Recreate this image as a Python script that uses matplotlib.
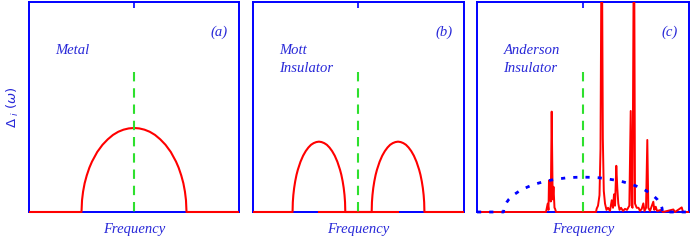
#!/usr/bin/env python3
import matplotlib
matplotlib.use("Agg")
import matplotlib.pyplot as plt
from matplotlib.patches import Rectangle

# --- data (frequency in units of half band width) ---
panel_tags = ["(a)", "(b)", "(c)"]
panel_names = [["Metal"], ["Mott", "Insulator"], ["Anderson", "Insulator"]]
center_line_top = 0.667

# (a) metal: one semi-elliptic band
metal_x = [-2.0, -1.0, -0.99, -0.97, -0.94, -0.9, -0.85, -0.8, -0.7, -0.6, -0.5, -0.4,
           -0.3, -0.2, -0.1, 0.0, 0.1, 0.2, 0.3, 0.4, 0.5, 0.6, 0.7, 0.8, 0.85, 0.9,
           0.94, 0.97, 0.99, 1.0, 2.0]
metal_y = [0.0, 0.0, 0.056, 0.097, 0.137, 0.174, 0.211, 0.240, 0.286, 0.320, 0.346, 0.367,
           0.382, 0.392, 0.398, 0.400, 0.398, 0.392, 0.382, 0.367, 0.346, 0.320, 0.286,
           0.240, 0.211, 0.174, 0.137, 0.097, 0.056, 0.0, 0.0]

# (b) Mott insulator: two Hubbard bands
mott_x = [-2.0, -1.25, -1.245, -1.235, -1.22, -1.2, -1.175, -1.15, -1.1, -1.05, -1.0,
          -0.95, -0.9, -0.85, -0.8, -0.75, -0.7, -0.65, -0.6, -0.55, -0.5, -0.45, -0.4,
          -0.35, -0.325, -0.3, -0.28, -0.265, -0.255, -0.25,
          0.25, 0.255, 0.265, 0.28, 0.3, 0.325, 0.35, 0.4, 0.45, 0.5, 0.55, 0.6, 0.65,
          0.7, 0.75, 0.8, 0.85, 0.9, 0.95, 1.0, 1.05, 1.1, 1.15, 1.175, 1.2, 1.22,
          1.235, 1.245, 1.25, 2.0]
mott_y = [0.0, 0.0, 0.047, 0.081, 0.114, 0.146, 0.177, 0.201, 0.239, 0.268, 0.290,
          0.307, 0.320, 0.328, 0.333, 0.335, 0.333, 0.328, 0.320, 0.307, 0.290, 0.268,
          0.239, 0.201, 0.177, 0.146, 0.114, 0.081, 0.047, 0.0,
          0.0, 0.047, 0.081, 0.114, 0.146, 0.177, 0.201, 0.239, 0.268, 0.290, 0.307,
          0.320, 0.328, 0.333, 0.335, 0.333, 0.328, 0.320, 0.307, 0.290, 0.268, 0.239,
          0.201, 0.177, 0.146, 0.114, 0.081, 0.047, 0.0, 0.0]
mott_base_x = [-0.75, 0.75]
mott_base_y = [0.0, 0.0]

# (c) Anderson insulator: spiky local spectrum plus the averaged band
anderson_x = [-2.0, -0.698, -0.666, -0.651, -0.642, -0.623, -0.608, -0.591, -0.572,
              -0.557, -0.538, -0.528, -0.509, 0.245, 0.258, 0.283, 0.311, 0.330, 0.353,
              0.374, 0.392, 0.415, 0.443, 0.472, 0.509, 0.542, 0.566, 0.585, 0.604,
              0.628, 0.647, 0.666, 0.689, 0.717, 0.755, 0.792, 0.830, 0.874, 0.900,
              0.919, 0.934, 0.962, 0.981, 1.013, 1.047, 1.075, 1.108, 1.138, 1.160,
              1.189, 1.213, 1.232, 1.264, 1.326, 1.345, 1.372, 1.396, 1.472, 1.509,
              1.704, 1.736, 1.862, 1.887, 2.0]
anderson_y = [0.0, 0.0, 0.040, 0.010, 0.150, 0.140, 0.050, 0.478, 0.060,
              0.120, 0.020, 0.016, 0.0, 0.0, 0.016, 0.030, 0.080, 0.300, 1.500,
              0.350, 0.100, 0.040, 0.010, 0.020, 0.005, 0.056, 0.020, 0.084, 0.030,
              0.220, 0.113, 0.040, 0.010, 0.020, 0.005, 0.015, 0.010, 0.030, 0.481,
              0.030, 0.020, 1.500, 0.040, 0.020, 0.020, 0.005, 0.015, 0.041, 0.005,
              0.020, 0.343, 0.020, 0.005, 0.049, 0.010, 0.025, 0.005, 0.010, 0.0,
              0.012, 0.0, 0.022, 0.0, 0.0]
band_x = [-2.0, -1.5, -1.49, -1.47, -1.44, -1.4, -1.35, -1.3, -1.2, -1.1, -1.0, -0.9,
          -0.75, -0.6, -0.45, -0.3, -0.15, 0.0, 0.15, 0.3, 0.45, 0.6, 0.75, 0.9, 1.0,
          1.1, 1.2, 1.3, 1.35, 1.4, 1.44, 1.47, 1.49, 1.5, 2.0]
band_y = [0.0, 0.0, 0.019, 0.033, 0.046, 0.060, 0.072, 0.083, 0.100, 0.113, 0.124,
          0.133, 0.144, 0.152, 0.158, 0.163, 0.165, 0.166, 0.165, 0.163, 0.158, 0.152,
          0.144, 0.133, 0.124, 0.113, 0.100, 0.083, 0.072, 0.060, 0.046, 0.033, 0.019,
          0.0, 0.0]

BLUE = "#0000ff"
TEXT_BLUE = "#2828d8"
RED = "#ff0000"
GREEN = "#2ee02e"
SERIF = ["Liberation Serif", "DejaVu Serif"]


def style_axes(ax):
    ax.set_xlim(-2, 2)
    ax.set_ylim(0, 1)
    ax.set_xticks([0])
    ax.set_xticklabels([])
    ax.set_yticks([])
    ax.tick_params(axis="x", direction="in", top=True, bottom=True,
                   length=4.3, width=1.2, color=BLUE)
    for sp in ax.spines.values():
        sp.set_color(BLUE)
        sp.set_linewidth(1.4)


def clip_low(ax, line):
    # clip at the top of the box but let the baseline sit over the bottom spine
    box = Rectangle((0, -0.03), 1, 1.03, transform=ax.transAxes)
    line.set_clip_path(box)


def main():
    fig = plt.figure(figsize=(6.92, 2.4), dpi=100)
    boxes = [(0.0419, 0.1167, 0.3035, 0.875),
             (0.3656, 0.1167, 0.3049, 0.875),
             (0.6893, 0.1167, 0.3064, 0.875)]
    axes = [fig.add_axes(b) for b in boxes]

    for ax in axes:
        style_axes(ax)

    l, = axes[0].plot(metal_x, metal_y, color=RED, lw=1.5, zorder=3)
    clip_low(axes[0], l)
    l, = axes[1].plot(mott_base_x, mott_base_y, color=RED, lw=1.5, zorder=3)
    clip_low(axes[1], l)
    l, = axes[1].plot(mott_x, mott_y, color=RED, lw=1.5, zorder=3)
    clip_low(axes[1], l)
    l, = axes[2].plot(anderson_x, anderson_y, color=RED, lw=1.4, zorder=3)
    clip_low(axes[2], l)
    l, = axes[2].plot(band_x, band_y, color=BLUE, lw=2.0, dashes=(1.5, 2.9), zorder=3.5)
    clip_low(axes[2], l)

    for i, ax in enumerate(axes):
        ax.plot([0, 0], [center_line_top, 0], color=GREEN, lw=1.5,
                dashes=(4.5, 3.3), zorder=4)
        ax.text(0.948, 0.855, panel_tags[i], transform=ax.transAxes, ha="right",
                va="center", fontsize=10.5, style="italic", family=SERIF, color=TEXT_BLUE)
        for j, line in enumerate(panel_names[i]):
            ax.text(0.125, 0.752 - 0.084 * j, line, transform=ax.transAxes,
                    ha="left", va="baseline", fontsize=10.5, style="italic",
                    family=SERIF, color=TEXT_BLUE)
        ax.text(0.5, -0.081, "Frequency", transform=ax.transAxes, ha="center",
                va="center", fontsize=10.5, style="italic", family=SERIF,
                color=TEXT_BLUE)

    axes[0].set_ylabel(r"$\Delta_{\ i}\ (\omega)$", color=TEXT_BLUE, fontsize=9.5)
    axes[0].yaxis.set_label_coords(-0.04, 0.5)

    fig.savefig("out.png", dpi=100)
    plt.close(fig)


if __name__ == "__main__":
    main()
